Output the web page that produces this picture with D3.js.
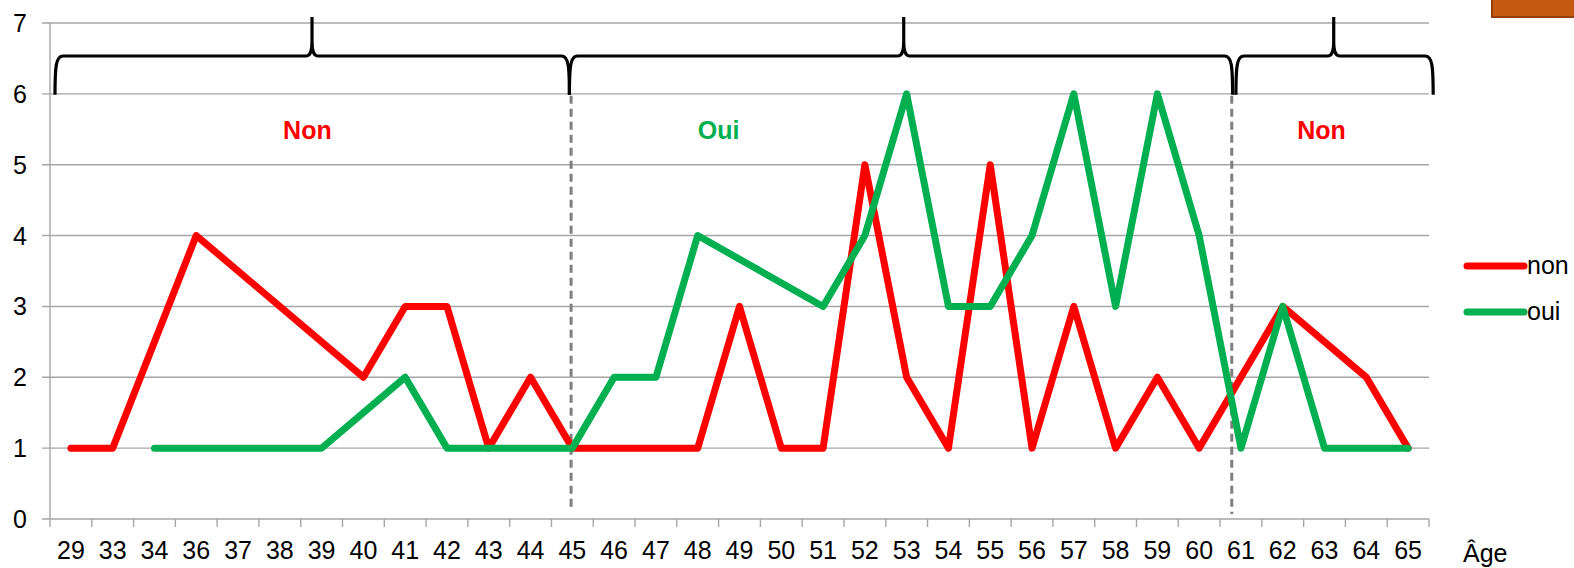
<!DOCTYPE html>
<html><head><meta charset="utf-8">
<script src="https://cdn.jsdelivr.net/npm/d3@7"></script>
<style>
html,body{margin:0;padding:0;background:#fff;}
svg{display:block;font-family:"Liberation Sans",Arial,sans-serif;}
</style></head>
<body>
<svg id="chart" width="1574" height="568"></svg>
<script>
// ---- data ----
const ages = ["29","33","34","36","37","38","39","40","41","42","43","44","45","46","47","48","49","50","51","52","53","54","55","56","57","58","59","60","61","62","63","64","65"];
const nonValues = [1,1,null,4,null,null,null,2,3,3,1,2,1,1,1,1,3,1,1,5,2,1,5,1,3,1,2,1,null,3,null,2,1];
const ouiValues = [null,null,1,1,1,1,1,null,2,1,1,1,1,2,2,4,null,null,3,4,6,3,3,4,6,3,6,4,1,3,1,1,1];
const seriesNames = ["non","oui"];
const yTicks = [0,1,2,3,4,5,6,7];
const xTitle = "Âge";
// annotation braces: [start, tip, end] in category-position units
const braces = [[0.12,6.27,12.43],[12.43,20.43,28.30],[28.38,30.72,33.10]];
const braceLabels = ["Non","Oui","Non"];
const braceLabelPos = [6.16,16.0,30.43];
const dividers = [12.47, 28.28];

// ---- layout ----
const plotL=50,plotR=1429,plotT=23,plotB=519;
const colors={non:"#FF0000",oui:"#00B050"};
const labelColors=["#FF0000","#00B050","#FF0000"];
const svg=d3.select("#chart");

const x=d3.scaleBand().domain(ages).range([plotL,plotR]).paddingInner(0).paddingOuter(0);
const xPos=d3.scaleLinear().domain([0,ages.length]).range([plotL,plotR]);
const y=d3.scaleLinear().domain([0,7]).range([plotB,plotT]);

// gridlines
svg.append("g").selectAll("line").data(yTicks).join("line")
  .attr("x1",plotL-8).attr("x2",plotR).attr("y1",d=>y(d)).attr("y2",d=>y(d))
  .attr("stroke","#A6A6A6").attr("stroke-width",1.4);
// y axis line
svg.append("line").attr("x1",plotL).attr("x2",plotL).attr("y1",y(7)).attr("y2",plotB)
  .attr("stroke","#A6A6A6").attr("stroke-width",1.4);
// x ticks
const tickIdx=d3.range(ages.length+1);
svg.append("g").selectAll("line").data(tickIdx).join("line")
  .attr("x1",d=>xPos(d)).attr("x2",d=>xPos(d)).attr("y1",plotB).attr("y2",plotB+8)
  .attr("stroke","#A6A6A6").attr("stroke-width",1.4);
// y labels
svg.append("g").selectAll("text").data(yTicks).join("text")
  .attr("x",27).attr("y",d=>y(d)).attr("dy","0.36em").attr("text-anchor","end")
  .attr("font-size",25).attr("fill","#000").text(d=>d);
// x labels
svg.append("g").selectAll("text").data(ages).join("text")
  .attr("x",d=>x(d)+x.bandwidth()/2).attr("y",559).attr("text-anchor","middle")
  .attr("font-size",25).attr("fill","#000").text(d=>d);
svg.append("text").attr("x",1463).attr("y",562).attr("font-size",25).attr("fill","#000").text(xTitle);

// dividers
svg.append("g").selectAll("line").data(dividers).join("line")
  .attr("x1",d=>xPos(d)).attr("x2",d=>xPos(d)).attr("y1",y(6)+2).attr("y2",(d,i)=>i===0?507:514)
  .attr("stroke","#7F7F7F").attr("stroke-width",3).attr("stroke-dasharray","8,5");

// lines
const lineGen=d3.line().x(d=>x(d.age)+x.bandwidth()/2).y(d=>y(d.v));
const series=[
  {name:"non",vals:nonValues},
  {name:"oui",vals:ouiValues}
];
series.forEach(s=>{
  const pts=ages.map((a,i)=>({age:a,v:s.vals[i]})).filter(d=>d.v!==null);
  svg.append("path").attr("d",lineGen(pts)).attr("fill","none")
    .attr("stroke",colors[s.name]).attr("stroke-width",7)
    .attr("stroke-linejoin","round").attr("stroke-linecap","round");
});

// braces
const yb=y(6)+1, ym=56, yt=17;
braces.forEach(b=>{
  const x0=xPos(b[0]), xt=xPos(b[1]), x1=xPos(b[2]);
  const p=d3.path();
  p.moveTo(x0,yb);
  p.bezierCurveTo(x0,ym+10,x0+1,ym,x0+8,ym);
  p.lineTo(xt-6,ym);
  p.bezierCurveTo(xt-1,ym,xt,ym-6,xt,ym-14);
  p.lineTo(xt,yt);
  p.moveTo(xt,ym-14);
  p.bezierCurveTo(xt,ym-6,xt+1,ym,xt+6,ym);
  p.lineTo(x1-8,ym);
  p.bezierCurveTo(x1-1,ym,x1,ym+10,x1,yb);
  svg.append("path").attr("d",p.toString()).attr("fill","none")
    .attr("stroke","#000").attr("stroke-width",3.2).attr("stroke-linejoin","round");
});
svg.append("g").selectAll("text").data(braceLabels).join("text")
  .attr("x",(d,i)=>xPos(braceLabelPos[i])).attr("y",139).attr("text-anchor","middle")
  .attr("font-size",25).attr("font-weight","bold").attr("fill",(d,i)=>labelColors[i]).text(d=>d);

// legend
const lg=svg.append("g");
seriesNames.forEach((n,i)=>{
  const yy=266+i*46;
  lg.append("line").attr("x1",1467).attr("x2",1524).attr("y1",yy).attr("y2",yy)
    .attr("stroke",colors[n]).attr("stroke-width",7).attr("stroke-linecap","round");
  lg.append("text").attr("x",1527).attr("y",yy+8).attr("font-size",25).attr("fill","#000").text(n);
});

// orange rectangle top-right
svg.append("rect").attr("x",1492).attr("y",-3).attr("width",90).attr("height",20)
  .attr("fill","#C55A11").attr("stroke","#943F0B").attr("stroke-width",2);
</script>
</body></html>
